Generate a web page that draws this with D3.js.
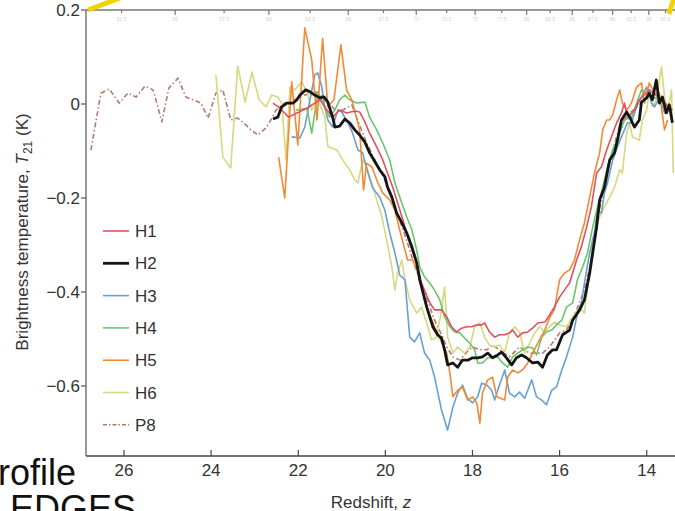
<!DOCTYPE html>
<html>
<head>
<meta charset="utf-8">
<script src="https://cdn.jsdelivr.net/npm/d3@7"></script>
<style>
    body { margin: 0; background: #fff; }
    svg { display: block; font-family: "Liberation Sans", Arial, sans-serif; }
    .tick-label { font-size: 17px; fill: #333; }
    .axis-label { font-size: 17px; fill: #333; }
    .legend-label { font-size: 17px; fill: #333; }
    .slide-text { font-size: 36px; fill: #111; }
</style>
</head>
<body>
<svg id="chart"></svg>
<script>
const chartWidth = 675;
const chartHeight = 511;

// plot frame (the chart is cut off on the right by the screenshot)
const plot = {left: 86, top: 10, right: 675, bottom: 456};

const X_TICKS = [26, 24, 22, 20, 18, 16, 14];
const Y_TICKS = [0.2, 0, -0.2, -0.4, -0.6];
const FREQ_TICKS = [52.5, 55, 57.5, 60, 62.5, 65, 67.5, 70, 72.5, 75, 77.5, 80, 82.5, 85, 87.5, 90, 92.5, 95, 97.5, 100];

const SERIES_NAMES = ["H1", "H2", "H3", "H4", "H5", "H6", "P8"];
const SERIES_COLORS = {H1: "#e2505f", H2: "#151515", H3: "#6a9fd3", H4: "#6cc56e", H5: "#f28a35", H6: "#d6d97e", P8: "#b37a6c"};

// [redshift z, T21 in K]
const H1 = [[22.58,0.002],[22.42,-0.009],[22.22,-0.028],[22.03,-0.019],[21.80,-0.009],[21.62,0.002],[21.50,0.009],[21.37,-0.009],[21.21,-0.028],[21.05,-0.013],[20.89,-0.019],[20.70,-0.015],[20.59,-0.017],[20.47,-0.038],[20.36,-0.062],[20.20,-0.091],[20.06,-0.119],[19.95,-0.147],[19.83,-0.177],[19.74,-0.204],[19.62,-0.240],[19.51,-0.274],[19.39,-0.311],[19.28,-0.338],[19.17,-0.381],[18.98,-0.423],[18.87,-0.438],[18.71,-0.438],[18.59,-0.453],[18.48,-0.474],[18.36,-0.485],[18.25,-0.477],[18.13,-0.474],[18.02,-0.474],[17.90,-0.470],[17.79,-0.470],[17.72,-0.466],[17.61,-0.485],[17.49,-0.496],[17.38,-0.491],[17.26,-0.491],[17.15,-0.487],[17.08,-0.481],[16.96,-0.496],[16.85,-0.487],[16.73,-0.485],[16.62,-0.477],[16.50,-0.466],[16.34,-0.464],[16.23,-0.449],[16.12,-0.432],[16.00,-0.411],[15.89,-0.396],[15.77,-0.381],[15.61,-0.332],[15.50,-0.304],[15.38,-0.262],[15.27,-0.219],[15.15,-0.147],[15.04,-0.134],[14.92,-0.098],[14.81,-0.070],[14.69,-0.040],[14.58,-0.019],[14.51,0.002],[14.44,-0.028],[14.28,-0.013],[14.17,0.009],[13.94,0.030],[13.71,0.013],[13.41,-0.013]];

const H2 = [[22.58,-0.032],[22.47,-0.028],[22.38,-0.006],[22.26,0.002],[22.12,0.002],[22.03,0.009],[21.96,0.019],[21.83,0.030],[21.73,0.026],[21.62,0.019],[21.50,0.013],[21.41,0.015],[21.32,0.004],[21.21,-0.028],[21.16,-0.049],[21.05,-0.047],[20.93,-0.032],[20.82,-0.040],[20.70,-0.055],[20.59,-0.066],[20.47,-0.081],[20.36,-0.104],[20.24,-0.123],[20.13,-0.140],[20.01,-0.155],[19.95,-0.177],[19.85,-0.198],[19.74,-0.232],[19.62,-0.253],[19.51,-0.274],[19.39,-0.304],[19.28,-0.338],[19.21,-0.374],[19.05,-0.432],[18.91,-0.474],[18.80,-0.491],[18.71,-0.498],[18.64,-0.523],[18.57,-0.555],[18.45,-0.551],[18.34,-0.560],[18.23,-0.545],[18.11,-0.545],[18.00,-0.540],[17.88,-0.540],[17.77,-0.538],[17.65,-0.530],[17.54,-0.540],[17.42,-0.534],[17.33,-0.528],[17.22,-0.540],[17.10,-0.555],[16.99,-0.540],[16.87,-0.534],[16.76,-0.540],[16.62,-0.551],[16.50,-0.549],[16.39,-0.560],[16.28,-0.534],[16.16,-0.523],[16.07,-0.523],[15.93,-0.491],[15.77,-0.481],[15.70,-0.460],[15.54,-0.438],[15.43,-0.417],[15.31,-0.360],[15.24,-0.317],[15.15,-0.262],[15.08,-0.204],[14.97,-0.177],[14.85,-0.119],[14.74,-0.104],[14.67,-0.077],[14.58,-0.034],[14.46,-0.017],[14.39,-0.028],[14.28,-0.049],[14.17,-0.034],[14.12,0.004],[14.00,0.013],[13.94,0.023],[13.87,0.009],[13.78,0.051],[13.71,0.002],[13.64,0.015],[13.55,-0.019],[13.48,-0.002],[13.41,-0.040]];

const H3 = [[22.15,-0.070],[21.96,-0.072],[21.85,-0.049],[21.73,0.009],[21.62,0.062],[21.55,0.066],[21.46,0.036],[21.39,-0.006],[21.32,-0.034],[21.21,-0.049],[21.09,-0.013],[21.00,-0.017],[20.86,-0.040],[20.75,-0.062],[20.63,-0.098],[20.52,-0.104],[20.40,-0.147],[20.29,-0.179],[20.13,-0.198],[20.01,-0.226],[19.90,-0.274],[19.78,-0.317],[19.67,-0.364],[19.55,-0.374],[19.44,-0.496],[19.33,-0.506],[19.21,-0.487],[19.10,-0.530],[18.98,-0.545],[18.87,-0.581],[18.71,-0.651],[18.57,-0.694],[18.45,-0.645],[18.34,-0.615],[18.23,-0.598],[18.11,-0.626],[18.00,-0.636],[17.88,-0.623],[17.79,-0.594],[17.67,-0.598],[17.56,-0.609],[17.49,-0.630],[17.38,-0.598],[17.26,-0.566],[17.15,-0.615],[17.03,-0.623],[16.92,-0.613],[16.80,-0.626],[16.64,-0.587],[16.53,-0.623],[16.41,-0.630],[16.30,-0.640],[16.18,-0.609],[16.07,-0.602],[15.95,-0.566],[15.84,-0.538],[15.70,-0.496],[15.59,-0.445],[15.50,-0.423],[15.43,-0.381],[15.31,-0.317],[15.20,-0.274],[15.13,-0.226],[15.04,-0.232],[14.97,-0.189],[14.90,-0.168],[14.78,-0.119],[14.67,-0.091],[14.58,-0.070],[14.44,-0.040],[14.35,-0.040],[14.23,-0.006],[14.12,0.015],[14.00,0.036],[13.89,0.002],[13.82,-0.006],[13.71,0.013],[13.59,-0.019],[13.48,0.002]];

const H4 = [[22.05,-0.013],[21.80,-0.009],[21.69,-0.062],[21.62,-0.019],[21.55,0.026],[21.46,0.009],[21.37,-0.013],[21.28,-0.028],[21.16,-0.013],[21.05,0.009],[20.93,0.019],[20.82,0.009],[20.66,0.002],[20.47,0.004],[20.36,-0.028],[20.20,-0.055],[20.06,-0.083],[19.90,-0.119],[19.78,-0.168],[19.62,-0.211],[19.51,-0.240],[19.39,-0.268],[19.28,-0.311],[19.21,-0.347],[19.10,-0.368],[18.98,-0.381],[18.87,-0.396],[18.75,-0.417],[18.64,-0.453],[18.52,-0.474],[18.41,-0.485],[18.29,-0.487],[18.18,-0.498],[18.06,-0.509],[17.95,-0.523],[17.88,-0.551],[17.77,-0.551],[17.65,-0.540],[17.54,-0.540],[17.42,-0.538],[17.31,-0.551],[17.19,-0.560],[17.08,-0.538],[16.96,-0.530],[16.85,-0.523],[16.73,-0.517],[16.62,-0.519],[16.53,-0.534],[16.41,-0.496],[16.30,-0.485],[16.18,-0.481],[16.07,-0.470],[15.95,-0.460],[15.84,-0.432],[15.70,-0.423],[15.59,-0.374],[15.47,-0.347],[15.36,-0.317],[15.24,-0.262],[15.13,-0.219],[15.01,-0.177],[14.90,-0.134],[14.78,-0.098],[14.62,-0.062],[14.51,-0.034],[14.35,-0.028],[14.23,0.002],[14.12,0.030],[13.94,0.019],[13.71,0.009],[13.48,-0.009]];

const H5 = [[22.45,-0.113],[22.31,-0.200],[22.15,0.047],[22.01,-0.087],[21.85,0.162],[21.69,0.094],[21.57,-0.034],[21.44,0.140],[21.32,-0.006],[21.18,0.009],[21.02,0.126],[20.89,0.030],[20.77,0.009],[20.66,-0.030],[20.59,-0.055],[20.50,-0.183],[20.43,-0.126],[20.31,-0.134],[20.17,-0.168],[20.06,-0.189],[19.90,-0.204],[19.78,-0.226],[19.67,-0.268],[19.55,-0.311],[19.49,-0.332],[19.37,-0.332],[19.26,-0.357],[19.14,-0.396],[19.03,-0.438],[18.87,-0.474],[18.71,-0.506],[18.59,-0.530],[18.52,-0.572],[18.45,-0.623],[18.34,-0.609],[18.23,-0.602],[18.11,-0.630],[18.00,-0.623],[17.90,-0.636],[17.83,-0.679],[17.77,-0.615],[17.65,-0.587],[17.54,-0.581],[17.44,-0.623],[17.26,-0.630],[17.19,-0.581],[17.08,-0.566],[16.96,-0.572],[16.85,-0.566],[16.73,-0.551],[16.62,-0.530],[16.50,-0.509],[16.34,-0.481],[16.23,-0.455],[16.12,-0.438],[16.00,-0.374],[15.89,-0.360],[15.77,-0.353],[15.66,-0.332],[15.54,-0.289],[15.43,-0.253],[15.31,-0.198],[15.20,-0.147],[15.08,-0.104],[15.01,-0.055],[14.92,-0.034],[14.85,-0.034],[14.78,-0.023],[14.69,0.009],[14.62,0.030],[14.56,0.002],[14.46,-0.013],[14.35,0.002],[14.23,0.036],[14.12,0.045],[14.05,0.002],[13.94,0.045],[13.82,0.023],[13.71,0.023],[13.59,-0.055],[13.52,-0.034]];

const H6 = [[23.89,0.062],[23.73,-0.113],[23.55,-0.136],[23.39,0.081],[23.22,0.004],[23.06,0.068],[22.90,0.009],[22.74,-0.006],[22.61,0.019],[22.47,0.015],[22.38,0.002],[22.28,-0.119],[22.19,0.036],[22.08,0.030],[21.92,0.047],[21.80,0.026],[21.69,-0.013],[21.55,0.009],[21.39,-0.028],[21.32,-0.091],[21.11,-0.098],[20.98,-0.119],[20.82,-0.140],[20.70,-0.162],[20.63,-0.168],[20.52,-0.119],[20.43,-0.134],[20.31,-0.168],[20.20,-0.204],[20.08,-0.240],[19.97,-0.289],[19.85,-0.347],[19.78,-0.396],[19.72,-0.360],[19.62,-0.332],[19.55,-0.374],[19.44,-0.417],[19.28,-0.445],[19.17,-0.432],[19.05,-0.466],[18.94,-0.502],[18.82,-0.496],[18.71,-0.438],[18.64,-0.389],[18.57,-0.496],[18.45,-0.530],[18.34,-0.517],[18.18,-0.530],[18.06,-0.517],[17.95,-0.474],[17.83,-0.466],[17.72,-0.496],[17.61,-0.513],[17.49,-0.517],[17.38,-0.513],[17.26,-0.528],[17.15,-0.487],[17.03,-0.474],[16.92,-0.485],[16.80,-0.530],[16.69,-0.509],[16.57,-0.487],[16.46,-0.474],[16.34,-0.485],[16.23,-0.474],[16.12,-0.464],[16.00,-0.470],[15.84,-0.474],[15.70,-0.453],[15.54,-0.432],[15.43,-0.445],[15.31,-0.353],[15.24,-0.289],[15.08,-0.240],[14.97,-0.219],[14.85,-0.198],[14.74,-0.177],[14.62,-0.140],[14.56,-0.147],[14.46,-0.062],[14.39,-0.040],[14.33,-0.070],[14.17,-0.077],[14.10,-0.034],[14.00,-0.013],[13.94,0.030],[13.87,-0.006],[13.78,0.009],[13.66,0.079],[13.59,0.015],[13.52,-0.019],[13.43,0.030],[13.39,-0.147]];

const P8 = [[26.76,-0.098],[26.53,0.023],[26.34,0.032],[26.11,0.002],[25.91,0.023],[25.72,0.015],[25.52,0.038],[25.33,0.030],[25.13,-0.038],[24.97,0.034],[24.76,0.055],[24.58,0.015],[24.42,0.009],[24.23,0.002],[24.07,-0.030],[23.89,0.023],[23.73,0.030],[23.55,-0.034],[23.39,-0.030],[23.25,-0.040],[23.09,-0.055],[22.93,-0.066],[22.74,-0.051],[22.63,-0.034],[22.51,-0.013],[22.31,0.002],[22.08,0.009],[21.85,0.019],[21.62,0.026],[21.39,0.015],[21.16,-0.013],[20.98,-0.013],[20.77,-0.002],[20.59,-0.045],[20.43,-0.083],[20.24,-0.119],[20.01,-0.162],[19.78,-0.221],[19.55,-0.279],[19.33,-0.343],[19.10,-0.400],[18.87,-0.460],[18.71,-0.491],[18.59,-0.517],[18.45,-0.538],[18.29,-0.545],[18.13,-0.528],[18.00,-0.517],[17.83,-0.523],[17.67,-0.523],[17.54,-0.513],[17.38,-0.523],[17.15,-0.538],[16.92,-0.517],[16.69,-0.530],[16.39,-0.530],[16.23,-0.517],[16.00,-0.487],[15.84,-0.481],[15.61,-0.438],[15.43,-0.396],[15.27,-0.332],[15.13,-0.247],[14.97,-0.172],[14.81,-0.109],[14.62,-0.045],[14.39,-0.019],[14.17,-0.002],[13.94,0.019],[13.71,0.009],[13.48,-0.009]];

const SERIES_DATA = {H1: H1, H2: H2, H3: H3, H4: H4, H5: H5, H6: H6, P8: P8};
// drawing order, black last so it sits on top
const DRAW_ORDER = ["P8", "H6", "H3", "H4", "H5", "H1", "H2"];

const LINE_THICKNESS = 1.6;
const BLACK_LINE_THICKNESS = 2.8;

const LEGEND_X = 103;
const LEGEND_Y = 231;
const LEGEND_STEP = 32.3;

let xScale = d3.scaleLinear().domain([26, 14]).range([124, 646.7]);
let yScale = d3.scaleLinear().domain([0, -0.6]).range([104, 386]);

let chartSvg = d3.select("#chart")
    .attr("width", chartWidth)
    .attr("height", chartHeight);

drawAxes();
drawLines();
drawLegend();
drawSlideBits();

function drawAxes() {
    // top frequency axis
    let freqToX = f => xScale(1420.4 / f - 1);
    chartSvg.append("line")
        .attr("x1", plot.left).attr("x2", plot.right)
        .attr("y1", plot.top).attr("y2", plot.top)
        .attr("stroke", "#777").attr("stroke-width", 1.5);
    for (let f of FREQ_TICKS) {
        let x = freqToX(f);
        if (x < plot.left || x > plot.right) continue;
        chartSvg.append("line")
            .attr("x1", x).attr("x2", x)
            .attr("y1", plot.top).attr("y2", plot.top + (f % 5 === 0 ? 5 : 3))
            .attr("stroke", "#777").attr("stroke-width", 1.2);
        chartSvg.append("text")
            .attr("x", x).attr("y", plot.top + 11)
            .attr("text-anchor", "middle")
            .attr("font-size", 5)
            .attr("fill", "#d0d0d0")
            .text(f);
    }

    // left axis
    chartSvg.append("line")
        .attr("x1", plot.left).attr("x2", plot.left)
        .attr("y1", plot.top).attr("y2", plot.bottom)
        .attr("stroke", "#777").attr("stroke-width", 1.5);
    for (let t of Y_TICKS) {
        let y = yScale(t);
        chartSvg.append("line")
            .attr("x1", plot.left - 5).attr("x2", plot.left)
            .attr("y1", y).attr("y2", y)
            .attr("stroke", "#555").attr("stroke-width", 1.2);
        chartSvg.append("text")
            .attr("class", "tick-label")
            .attr("x", plot.left - 6).attr("y", y)
            .attr("dy", "0.36em")
            .attr("text-anchor", "end")
            .text(t === 0 ? "0" : d3.format(".1f")(t).replace("-", "\u2212"));
    }

    // bottom axis
    chartSvg.append("line")
        .attr("x1", plot.left).attr("x2", plot.right)
        .attr("y1", plot.bottom).attr("y2", plot.bottom)
        .attr("stroke", "#444").attr("stroke-width", 1.5);
    for (let t of X_TICKS) {
        let x = xScale(t);
        chartSvg.append("line")
            .attr("x1", x).attr("x2", x)
            .attr("y1", plot.bottom - 6).attr("y2", plot.bottom)
            .attr("stroke", "#444").attr("stroke-width", 1.2);
        chartSvg.append("text")
            .attr("class", "tick-label")
            .attr("x", x).attr("y", 476)
            .attr("text-anchor", "middle")
            .text(t);
    }

    let xLabel = chartSvg.append("text")
        .attr("class", "axis-label")
        .attr("x", 371).attr("y", 508)
        .attr("text-anchor", "middle");
    xLabel.append("tspan").text("Redshift, ");
    xLabel.append("tspan").attr("font-style", "italic").text("z");

    let yLabel = chartSvg.append("text")
        .attr("class", "axis-label")
        .attr("transform", "translate(28, 232) rotate(-90)")
        .attr("text-anchor", "middle");
    yLabel.append("tspan").text("Brightness temperature, ");
    yLabel.append("tspan").attr("font-style", "italic").text("T");
    yLabel.append("tspan").attr("font-size", 12).attr("dy", 4).text("21");
    yLabel.append("tspan").attr("dy", -4).text(" (K)");
}

function drawLines() {
    chartSvg.append("clipPath")
        .attr("id", "plot-clip")
        .append("rect")
        .attr("x", plot.left).attr("y", plot.top)
        .attr("width", plot.right - plot.left)
        .attr("height", plot.bottom - plot.top);

    let lineGen = d3.line()
        .x(d => xScale(d[0]))
        .y(d => yScale(d[1]));

    let linesG = chartSvg.append("g").attr("clip-path", "url(#plot-clip)");
    for (let name of DRAW_ORDER) {
        linesG.append("path")
            .datum(SERIES_DATA[name])
            .attr("class", "plot-line")
            .attr("fill", "none")
            .attr("stroke", SERIES_COLORS[name])
            .attr("stroke-width", name === "H2" ? BLACK_LINE_THICKNESS : LINE_THICKNESS)
            .attr("stroke-linejoin", "round")
            .attr("stroke-dasharray", name === "P8" ? "5,2.5,1.5,2.5" : null)
            .attr("d", lineGen);
    }
}

function drawLegend() {
    SERIES_NAMES.forEach((name, i) => {
        let y = LEGEND_Y + i * LEGEND_STEP;
        chartSvg.append("line")
            .attr("x1", LEGEND_X).attr("x2", LEGEND_X + 26)
            .attr("y1", y).attr("y2", y)
            .attr("stroke", SERIES_COLORS[name])
            .attr("stroke-width", name === "H2" ? BLACK_LINE_THICKNESS : LINE_THICKNESS)
            .attr("stroke-dasharray", name === "P8" ? "4,2,1.5,2" : null);
        chartSvg.append("text")
            .attr("class", "legend-label")
            .attr("x", LEGEND_X + 32).attr("y", y)
            .attr("dy", "0.36em")
            .text(name);
    });
}

function drawSlideBits() {
    // yellow annotation strokes and the slide text behind the chart
    chartSvg.append("line")
        .attr("x1", 88).attr("y1", 10).attr("x2", 120).attr("y2", -2)
        .attr("stroke", "#f2d200").attr("stroke-width", 5);
    chartSvg.append("line")
        .attr("x1", 669).attr("y1", 14).attr("x2", 674).attr("y2", -2)
        .attr("stroke", "#f2d200").attr("stroke-width", 5);
    chartSvg.append("text")
        .attr("class", "slide-text")
        .attr("x", -22).attr("y", 485)
        .text("profile");
    chartSvg.append("text")
        .attr("class", "slide-text")
        .attr("x", 10).attr("y", 521)
        .text("EDGES");
}
</script>
</body>
</html>
